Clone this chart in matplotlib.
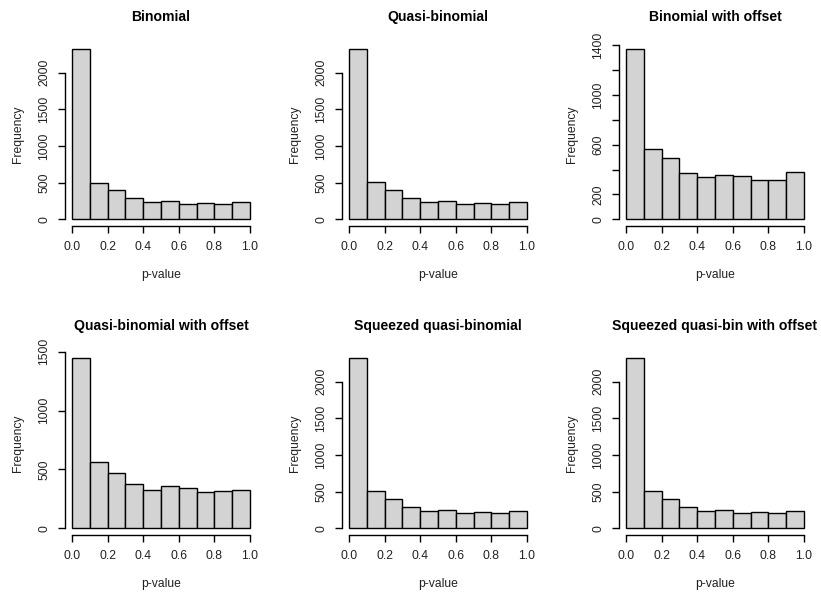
import numpy as np
import matplotlib
matplotlib.use("Agg")
import matplotlib.pyplot as plt

plt.rcParams['font.family'] = ['Liberation Sans', 'DejaVu Sans']

# bordes de los bins (p-values de 0 a 1, ancho 0.1)
bordes = [0.0, 0.1, 0.2, 0.3, 0.4, 0.5, 0.6, 0.7, 0.8, 0.9, 1.0]

# frecuencias
binomial = [2324, 498, 393, 288, 233, 247, 205, 219, 205, 233]
quasi_binomial = [2324, 514, 395, 290, 235, 249, 205, 221, 205, 235]
binomial_offset = [1373, 568, 490, 374, 342, 358, 350, 312, 312, 382]
quasi_binomial_offset = [1449, 559, 468, 374, 329, 360, 340, 312, 320, 329]
squeezed_quasi = [2324, 514, 395, 290, 235, 249, 205, 221, 205, 235]
squeezed_quasi_offset = [2324, 514, 395, 290, 235, 249, 205, 221, 205, 235]

titulos = ["Binomial", "Quasi-binomial", "Binomial with offset",
           "Quasi-binomial with offset", "Squeezed quasi-binomial",
           "Squeezed quasi-bin with offset"]
series = [binomial, quasi_binomial, binomial_offset,
          quasi_binomial_offset, squeezed_quasi, squeezed_quasi_offset]

# ticks del eje y de cada panel, y los que R deja sin etiqueta
yticks = [[0, 500, 1000, 1500, 2000], [0, 500, 1000, 1500, 2000],
          [0, 200, 400, 600, 800, 1000, 1200, 1400],
          [0, 500, 1000, 1500], [0, 500, 1000, 1500, 2000],
          [0, 500, 1000, 1500, 2000]]
sin_etiqueta = {2: [400, 800, 1200]}
xticks = [0.0, 0.2, 0.4, 0.6, 0.8, 1.0]

W, H = 821, 593
fig = plt.figure(figsize=(W / 100, H / 100), dpi=100)

# posicion de las regiones en pixeles (izquierda, arriba)
cols = [65, 342, 619]
filas = [42, 351]
ancho, alto = 192, 184


def graficar(ax, frec, titulo, ticks, ocultos):
    izq = np.array(bordes[:-1])
    ax.bar(izq, frec, width=0.1, align='edge', color='#d3d3d3',
           edgecolor='black', linewidth=1.0)
    m = max(frec)
    ax.set_xlim(-0.04, 1.04)
    ax.set_ylim(-0.04 * m, 1.04 * m)
    for s in ['top', 'right']:
        ax.spines[s].set_visible(False)
    ax.spines['bottom'].set_bounds(0, 1)
    ax.spines['left'].set_bounds(ticks[0], ticks[-1])
    ax.spines['bottom'].set_linewidth(1.0)
    ax.spines['left'].set_linewidth(1.0)
    ax.set_xticks(xticks)
    ax.set_xticklabels(["%.1f" % t for t in xticks])
    ax.set_yticks(ticks)
    ax.set_yticklabels(["" if t in ocultos else str(t) for t in ticks],
                       rotation=90, va='center')
    ax.tick_params(length=5, width=1.0, labelsize=8.7, pad=5.5,
                   labelcolor='#222222')
    ax.set_title(titulo, fontsize=10.1, fontweight='bold', pad=15)
    ax.set_xlabel("p-value", fontsize=8.7, color='#222222')
    ax.set_ylabel("Frequency", fontsize=8.7, color='#222222')
    ax.xaxis.set_label_coords(0.5, -0.235)
    ax.yaxis.set_label_coords(-0.215, 0.5)


for i in range(6):
    fila, col = divmod(i, 3)
    x0 = cols[col]
    y0 = filas[fila]
    ax = fig.add_axes([x0 / W, 1 - (y0 + alto) / H, ancho / W, alto / H])
    graficar(ax, series[i], titulos[i], yticks[i], sin_etiqueta.get(i, []))

fig.savefig("out.png", dpi=100)
